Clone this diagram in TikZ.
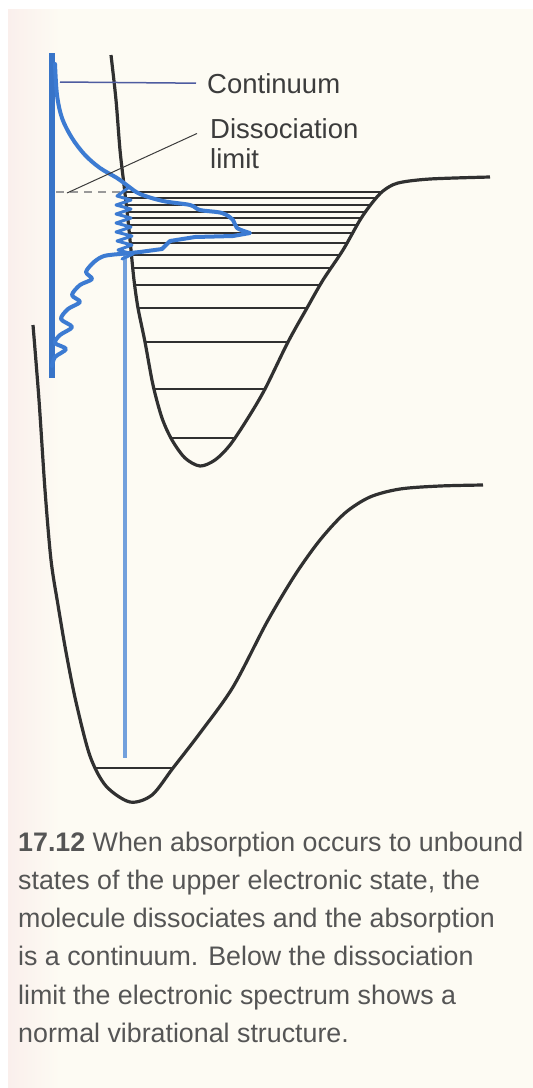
\documentclass[tikz,border=0pt]{standalone}
\usepackage{fontspec}
\setmainfont{Liberation Sans}
\begin{document}
\begin{tikzpicture}[x=1pt,y=-1pt,
  curve/.style={draw=curvecol,line width=3.2pt,line join=round},
  level/.style={draw=curvecol,line width=2.4pt},
  spec/.style={draw=specblue,line width=4pt,line join=round,line cap=round},
  lbl/.style={inner sep=0pt,text=labelcol,font=\fontsize{27.5}{30}\selectfont},
  captext/.style={inner sep=0pt,anchor=base west,text=captioncol,font=\fontsize{26.8}{38}\selectfont}]
\definecolor{curvecol}{HTML}{303030}
\definecolor{specblue}{HTML}{3C7BD2}
\definecolor{axisblue}{HTML}{3874C8}
\definecolor{transblue}{HTML}{72A0DC}
\definecolor{labelcol}{HTML}{3C3C3C}
\definecolor{captioncol}{HTML}{555555}
\definecolor{leadblue}{HTML}{4E5CA0}
\definecolor{bgcream}{HTML}{FDFBF3}
\definecolor{bgpink}{HTML}{FAEFEC}
\useasboundingbox (0,0) rectangle (533,1088);
% background
\fill[white] (0,0) rectangle (533,1088);
\fill[bgcream] (8,9) rectangle (533,1088);
\shade[left color=bgpink,right color=bgcream] (8,9) rectangle (60,1088);

% upper potential curve
\def\uppercurve{(111,55) (116,100) (120,150) (124,185) (128,220) (131,250) (134,280) (138,308) (145,342) (153,385) (162,418) (172,440) (185,458) (200,466) (215,460) (230,445) (248,418) (265,389) (288,342) (307,308) (323,280) (343,250) (360,220) (372,203) (383,191) (398,183) (430,179) (490,177)}
\begin{scope}
  \clip plot[smooth,tension=0.5] coordinates {\uppercurve} -- (490,40) -- cycle;
  \foreach \yy in {192,198,205,212,218,225,233,243,255,268,285}
    \draw[level] (100,\yy) -- (500,\yy);
  \foreach \yy in {308,342,389,438}
    \draw[level,line width=2pt] (100,\yy) -- (500,\yy);
\end{scope}
\draw[curve] plot[smooth,tension=0.5] coordinates {\uppercurve};

% lower potential curve
\def\lowercurve{(33,325) (39,400) (45,490) (51,560) (58,605) (66,652) (76,702) (90,756) (106,786) (130,802) (152,795) (173,768) (200,733) (233,687) (267,622) (295,575) (320,540) (345,513) (370,497) (400,489) (440,486) (483,485)}
\begin{scope}
  \clip plot[smooth,tension=0.5] coordinates {\lowercurve} -- (483,300) -- cycle;
  \draw[level,line width=2.2pt] (80,768) -- (200,768);
\end{scope}
\draw[curve] plot[smooth,tension=0.5] coordinates {\lowercurve};

% dissociation limit dashed line
\draw[draw=gray!80,line width=1.4pt,dash pattern=on 8pt off 6pt] (56,192) -- (121,192);

% transition line
\coordinate (tTop) at (125,254);
\coordinate (tBot) at (125,758);
\draw[draw=transblue,line width=3.4pt] (tTop) -- (tBot);

% spectrum axis
\coordinate (axTop) at (52,53);
\coordinate (axBot) at (52,378);
\draw[draw=axisblue,line width=5.5pt] (axTop) -- (axBot);

% spectrum: continuum and envelope
\draw[spec] plot[smooth,tension=0.55] coordinates {(55,64) (57,95) (62,118) (72,138) (85,155) (100,168) (117,178) (128,186) (140,194) (163,201) (190,205) (200,210) (222,213) (233,220) (237,228) (250,233)}
  -- (233,236) -- (195,237) -- (170,241) -- (162,249) -- (140,252) -- (120,254);
% spectrum: wavy tail below
\draw[spec] plot[smooth,tension=0.5] coordinates {(120,254) (104,256) (94,262) (86,272) (92,279) (80,285) (72,295) (80,302) (68,309) (61,319) (72,327) (60,335) (55,343) (66,349) (55,357) (52,366)};
% spectrum: vibrational structure
\draw[spec,line width=3pt] (128,188) -- (117,196) -- (131,200) -- (116,205) -- (131,209) -- (116,214) -- (131,218) -- (116,223) -- (131,227) -- (116,232) -- (132,236) -- (117,241) -- (132,245) -- (118,250) -- (133,254) -- (122,259);

% labels
\node[lbl,anchor=base west] (cont) at (207,93) {Continuum};
\node[lbl,anchor=base west] (dis) at (210,138) {Dissociation};
\node[lbl,anchor=base west] (lim) at (210,168) {limit};
\coordinate (contStart) at (60,82);
\coordinate (disStart) at (67,193);
\draw[draw=leadblue,line width=1.5pt] (contStart) -- ([xshift=-11pt]cont.west);
\draw[draw=labelcol,line width=1pt] (disStart) -- ([xshift=-13pt,yshift=5pt]dis.south west);

% caption
\node[captext] (c1) at (18,851) {\textbf{17.12} When absorption occurs to unbound};
\node[captext] (c2) at (18,889) {states of the upper electronic state, the};
\node[captext] (c3) at (18,927) {molecule dissociates and the absorption};
\node[captext] (c4) at (18,965) {is a continuum. Below the dissociation};
\node[captext] (c5) at (18,1004) {limit the electronic spectrum shows a};
\node[captext] (c6) at (18,1042) {normal vibrational structure.};
\end{tikzpicture}
\end{document}
